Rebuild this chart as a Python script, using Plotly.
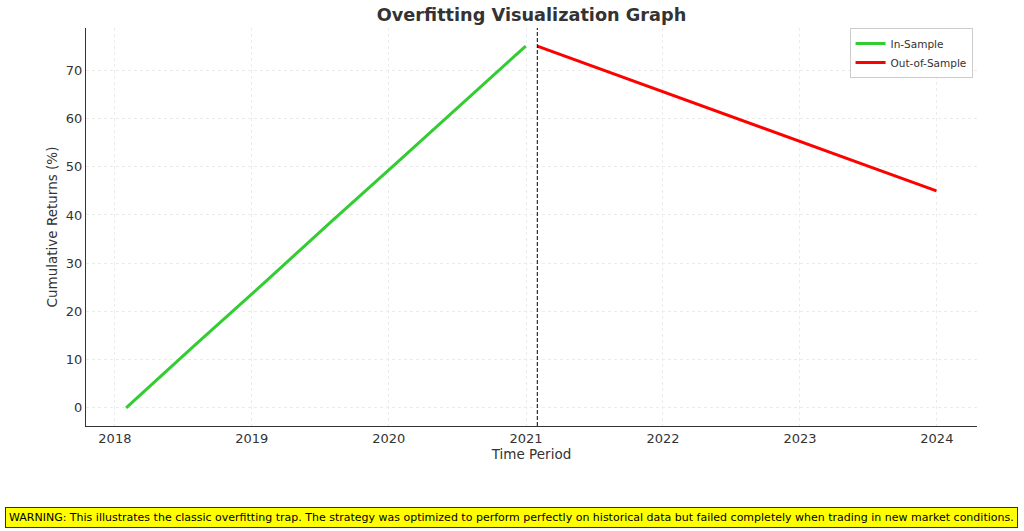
import plotly.graph_objects as go

# Data
in_dates = ["2018-01-31", "2018-07-31", "2019-01-31", "2019-07-31", "2020-01-31", "2020-07-31", "2020-12-31"]
in_vals = [0, 12.86, 25.71, 38.57, 51.43, 64.29, 75]
out_dates = ["2021-01-31", "2021-07-31", "2022-01-31", "2022-07-31", "2023-01-31", "2023-07-31", "2023-12-31"]
out_vals = [75, 69.86, 64.71, 59.57, 54.43, 49.29, 45]
split_date = "2021-01-31"
x_ticks = ["2018-01-01", "2019-01-01", "2020-01-01", "2021-01-01", "2022-01-01", "2023-01-01", "2024-01-01"]
x_tick_labels = ["2018", "2019", "2020", "2021", "2022", "2023", "2024"]
y_ticks = [0, 10, 20, 30, 40, 50, 60, 70]
warning_text = ("WARNING: This illustrates the classic overfitting trap. The strategy was optimized to perform "
                "perfectly on historical data but failed completely when trading in new market conditions.")

FONT = "DejaVu Sans"
DARK = "#333333"

fig = go.Figure()
fig.add_trace(go.Scatter(x=in_dates, y=in_vals, mode="lines", name="In-Sample",
                         line=dict(color="#33cc33", width=3)))
fig.add_trace(go.Scatter(x=out_dates, y=out_vals, mode="lines", name="Out-of-Sample",
                         line=dict(color="#ff0000", width=3)))

fig.add_shape(type="line", xref="x", yref="paper", x0=split_date, x1=split_date, y0=0, y1=1,
              line=dict(color="black", width=1, dash="4px,2px"))

fig.add_annotation(text=warning_text, xref="paper", yref="paper", x=0.477, y=-0.229,
                   xanchor="center", yanchor="middle", showarrow=False,
                   font=dict(family=FONT, size=11, color="black"),
                   bgcolor="#ffff00", bordercolor="#333333", borderwidth=1, borderpad=3)

fig.update_layout(
    width=1024, height=531,
    margin=dict(l=86, r=47, t=28, b=105),
    paper_bgcolor="white", plot_bgcolor="white",
    font=dict(family=FONT, color=DARK, size=12),
    title=dict(text="<b>Overfitting Visualization Graph</b>", x=0.5, xref="paper", xanchor="center",
               y=0.972, yref="container", yanchor="middle",
               font=dict(family=FONT, size=17.7, color=DARK)),
    showlegend=True,
    legend=dict(x=0.995, y=1.0, xanchor="right", yanchor="top",
                bgcolor="rgba(255,255,255,0.8)", bordercolor="#cccccc", borderwidth=1,
                font=dict(family=FONT, size=10.5, color=DARK),
                tracegroupgap=0, itemwidth=30),
)

fig.update_xaxes(
    type="date", range=["2017-10-16", "2024-04-17"],
    tickvals=x_ticks, ticktext=x_tick_labels,
    showline=True, linecolor=DARK, linewidth=1, mirror=False,
    ticks="",
    showgrid=True, gridcolor="#ebebeb", griddash="dot", gridwidth=1,
    zeroline=False, tickfont=dict(size=13, color=DARK),
    title=dict(text="Time Period", font=dict(size=13.5, color=DARK), standoff=0),
)
fig.update_yaxes(
    range=[-3.75, 78.75], tickvals=y_ticks,
    showline=True, linecolor=DARK, linewidth=1, mirror=False,
    ticks="",
    showgrid=True, gridcolor="#ebebeb", griddash="dot", gridwidth=1,
    zeroline=False, tickfont=dict(size=13, color=DARK),
    title=dict(text="Cumulative Returns (%)", font=dict(size=13.5, color=DARK), standoff=5),
)

fig.write_html("out.html", config={"displayModeBar": False},
               post_script="document.body.style.margin='0';document.body.style.padding='0';")
